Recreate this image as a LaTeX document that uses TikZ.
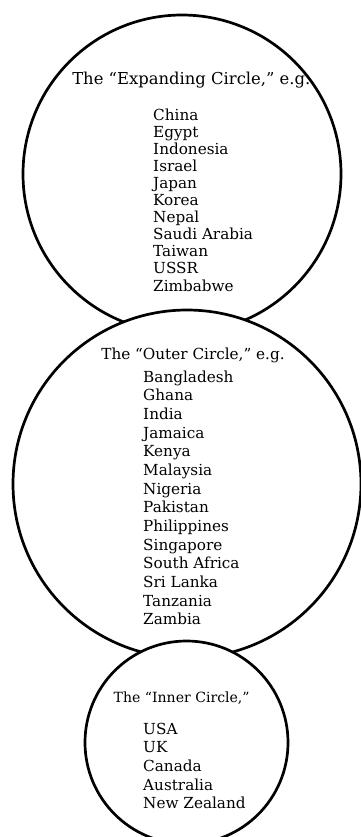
\documentclass[tikz,border=0pt]{standalone}
\usepackage{fontspec}
\setmainfont{DejaVu Serif}
\usetikzlibrary{positioning}

\begin{document}
\begin{tikzpicture}[font=\fontsize{13}{15}\selectfont,
   ring/.style={circle,draw,fill=white,line width=2.3pt,inner sep=0pt},
   head/.style={anchor=base,inner sep=0pt},
   item/.style={anchor=base west,inner sep=0pt}]
  \useasboundingbox (0,0) rectangle (10.83,-25.11);
  % expanding circle
  \node[ring,minimum size=9.54cm] (expc) at (5.46,-5.22) {};
  \node[head,font=\fontsize{14}{16}\selectfont] (exphead) at (5.74,-2.52)
     {The ``Expanding Circle,'' e.g.};
  \foreach \c [count=\i] in {China,Egypt,Indonesia,Israel,Japan,Korea,Nepal,
      Saudi Arabia,Taiwan,USSR,Zimbabwe}
    \node[item] (exp\i) at (4.59,-3.6-0.513*\i+0.513) {\c};
  % outer circle
  \node[ring,minimum size=10.44cm] (outc) at (5.61,-14.52) {};
  \node[head] (outhead) at (5.79,-10.77) {The ``Outer Circle,'' e.g.};
  \foreach \c [count=\i] in {Bangladesh,Ghana,India,Jamaica,Kenya,Malaysia,
      Nigeria,Pakistan,Philippines,Singapore,South Africa,Sri Lanka,Tanzania,Zambia}
    \node[item] (out\i) at (4.29,-11.46-0.56*\i+0.56) {\c};
  % inner circle
  \node[ring,minimum size=6.09cm] (innc) at (5.595,-22.275) {};
  \node[head,font=\fontsize{12}{14}\selectfont] (innhead) at (5.45,-21.06)
     {The ``Inner Circle,''};
  \foreach \c [count=\i] in {USA,UK,Canada,Australia,New Zealand}
    \node[item] (inn\i) at (4.29,-22.02-0.56*\i+0.56) {\c};
\end{tikzpicture}
\end{document}
